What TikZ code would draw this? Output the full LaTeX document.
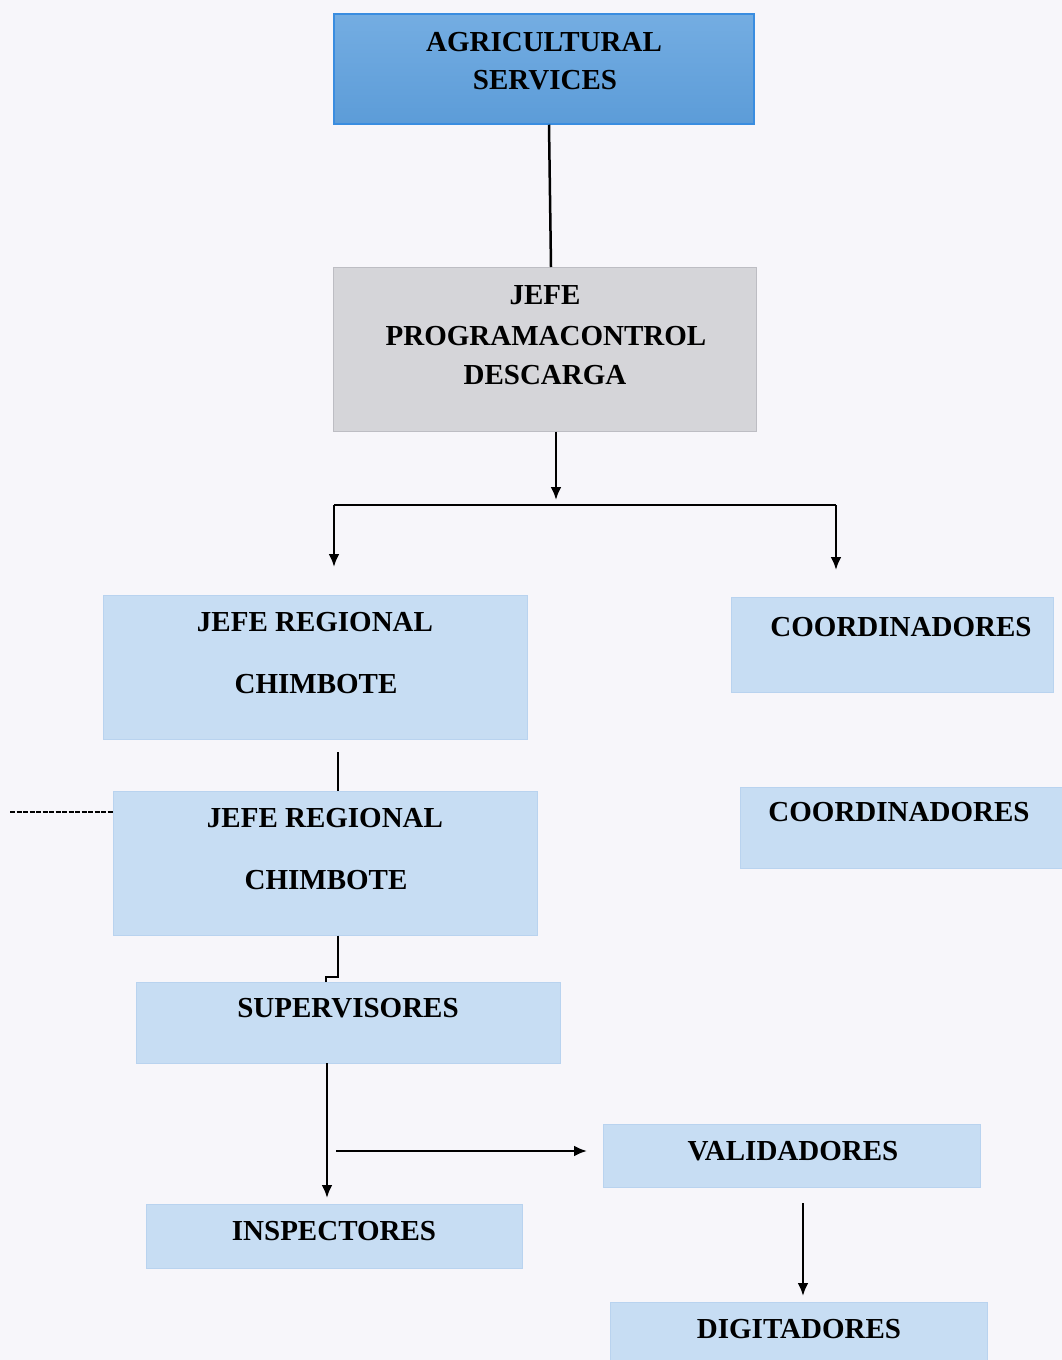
\documentclass[tikz,border=0pt]{standalone}
\usepackage{fontspec}
\setmainfont{Liberation Serif}
\usetikzlibrary{arrows.meta}
\definecolor{bgc}{HTML}{F7F6FA}
\definecolor{topblue}{HTML}{74ADE2}
\definecolor{topblueb}{HTML}{5C9CD8}
\definecolor{topedge}{HTML}{3A8DE0}
\definecolor{grayfill}{HTML}{D5D5D9}
\definecolor{grayedge}{HTML}{BDBDC3}
\definecolor{lblue}{HTML}{C7DDF3}
\definecolor{lblueedge}{HTML}{B9D3EF}
\tikzset{
  box/.style={rectangle, inner sep=0pt, line width=1pt},
  topbox/.style={box, draw=topedge, line width=1.5pt, top color=topblue, bottom color=topblueb},
  graybox/.style={box, draw=grayedge, fill=grayfill},
  bluebox/.style={box, draw=lblueedge, fill=lblue},
  txt/.style={font=\bfseries\fontsize{29}{34}\selectfont, inner sep=0pt, anchor=center, align=center},
  conn/.style={line width=2.5pt, draw=black},
  arr/.style={conn, -{Latex[length=13pt,width=11pt]}}
}
\begin{document}
\begin{tikzpicture}[x=1pt,y=-1pt]
\useasboundingbox (0,0) rectangle (1062,1360);
\fill[bgc] (0,0) rectangle (1062,1360);

% boxes
\node[topbox, minimum width=420pt, minimum height=110pt] (ag) at (544,69) {};
\node[txt] (agt1) at (544,42) {AGRICULTURAL};
\node[txt] (agt2) at (545,80) {SERVICES};

\node[graybox, minimum width=423pt, minimum height=164pt] (jefe) at (544.5,349) {};
\node[txt] (jt1) at (545,295) {JEFE};
\node[txt] (jt2) at (546,336) {PROGRAMACONTROL};
\node[txt] (jt3) at (545,375) {DESCARGA};

\node[bluebox, minimum width=424pt, minimum height=144pt] (jr1) at (315,667) {};
\node[txt] (jr1a) at (315,622) {JEFE REGIONAL};
\node[txt] (jr1b) at (316,684) {CHIMBOTE};

\node[bluebox, minimum width=322pt, minimum height=95pt] (co1) at (892,644.5) {};
\node[txt] (co1t) at (901,627) {COORDINADORES};

\node[bluebox, minimum width=330pt, minimum height=81pt] (co2) at (905,827.5) {};
\node[txt] (co2t) at (899,812) {COORDINADORES};

\node[bluebox, minimum width=424pt, minimum height=144pt] (jr2) at (325,863) {};
\node[txt] (jr2a) at (325,818) {JEFE REGIONAL};
\node[txt] (jr2b) at (326,880) {CHIMBOTE};

\node[bluebox, minimum width=424pt, minimum height=81pt] (sup) at (348,1022.5) {};
\node[txt] (supt) at (348,1008) {SUPERVISORES};

\node[bluebox, minimum width=377pt, minimum height=63pt] (val) at (791.5,1155.5) {};
\node[txt] (valt) at (793,1151) {VALIDADORES};

\node[bluebox, minimum width=376pt, minimum height=64pt] (ins) at (334,1236) {};
\node[txt] (inst) at (334,1231) {INSPECTORES};

\node[bluebox, minimum width=377pt, minimum height=70pt] (dig) at (798.5,1337) {};
\node[txt] (digt) at (799,1329) {DIGITADORES};

% connector coordinates
\coordinate (b1) at (556,505);
\coordinate (bl) at (334,505);
\coordinate (br) at (836,505);
\coordinate (lt) at (334,567);
\coordinate (rt) at (836,570);
\coordinate (d1) at (338,752);
\coordinate (dash) at (10,812);
\coordinate (h1) at (338,977);
\coordinate (h2) at (326,977);
\coordinate (h3) at (326,982);
\coordinate (s1) at (327,1063);
\coordinate (s2) at (327,1198);
\coordinate (v1) at (336,1151);
\coordinate (v2) at (587,1151);
\coordinate (g1) at (803,1203);
\coordinate (g2) at (803,1296);

% connectors
\draw[conn] (ag.south -| 549,0) -- (551,267);
\draw[arr] (jefe.south -| b1) -- (556,500);
\draw[conn] (bl) -- (br);
\draw[arr] (bl) -- (lt);
\draw[arr] (br) -- (rt);
\draw[conn] (d1) -- (jr2.north -| d1);
\draw[conn, dash pattern=on 5pt off 1.5pt, line width=2pt] (dash) -- (jr2.west |- dash);
\draw[conn] (jr2.south -| h1) -- (h1) -- (h2) -- (h3);
\draw[arr] (s1) -- (s2);
\draw[arr] (v1) -- (v2);
\draw[arr] (g1) -- (g2);
\end{tikzpicture}
\end{document}
